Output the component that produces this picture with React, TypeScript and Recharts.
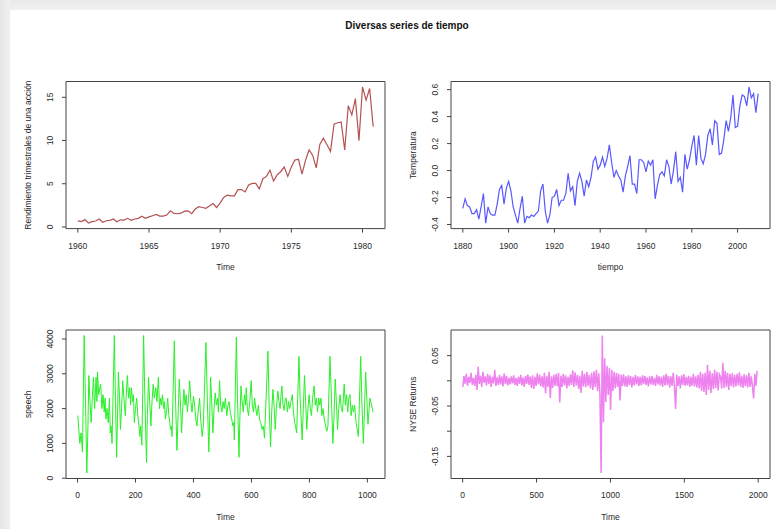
import { LineChart, Line, XAxis, YAxis, ReferenceArea } from 'recharts'

// Johnson & Johnson quarterly earnings, 1960 Q1 .. 1980 Q4
const jjEarnings = [
  0.71, 0.63, 0.85, 0.44, 0.61, 0.69, 0.92, 0.55, 0.72, 0.77, 0.92, 0.6,
  0.83, 0.8, 1.0, 0.77, 0.92, 1.0, 1.24, 1.0, 1.16, 1.3, 1.45, 1.25,
  1.26, 1.38, 1.86, 1.56, 1.53, 1.59, 1.83, 1.86, 1.53, 2.07, 2.34, 2.25,
  2.16, 2.43, 2.7, 2.25, 2.79, 3.42, 3.69, 3.6, 3.6, 4.32, 4.32, 4.05,
  4.86, 5.04, 5.04, 4.41, 5.58, 5.85, 6.57, 5.31, 6.03, 6.39, 6.93, 5.85,
  6.93, 7.74, 7.83, 6.12, 7.74, 8.91, 8.28, 6.84, 9.54, 10.26, 9.54, 8.73,
  11.88, 12.06, 12.15, 8.91, 14.04, 12.96, 14.85, 9.99, 16.2, 14.67, 16.02, 11.61,
]
const jjStart = 1960

// global temperature deviations, 1880 .. 2009
const gtempValues = [
  -0.28, -0.21, -0.26, -0.27, -0.32, -0.32, -0.29, -0.36, -0.27, -0.17,
  -0.39, -0.27, -0.32, -0.33, -0.33, -0.25, -0.14, -0.11, -0.25, -0.13,
  -0.08, -0.15, -0.27, -0.33, -0.39, -0.28, -0.19, -0.39, -0.34, -0.35,
  -0.33, -0.34, -0.32, -0.3, -0.15, -0.1, -0.3, -0.39, -0.33, -0.2,
  -0.19, -0.14, -0.26, -0.22, -0.22, -0.17, -0.02, -0.15, -0.12, -0.26,
  -0.08, -0.02, -0.08, -0.19, -0.07, -0.12, -0.05, 0.07, 0.1, 0.01,
  0.04, 0.1, 0.03, 0.09, 0.19, 0.06, -0.05, 0.0, -0.04, -0.07,
  -0.16, -0.04, 0.03, 0.11, -0.1, -0.1, -0.17, 0.08, 0.08, 0.06,
  -0.01, 0.07, 0.04, 0.08, -0.21, -0.11, -0.03, -0.01, -0.04, 0.08,
  0.03, -0.1, 0.0, 0.14, -0.08, -0.05, -0.16, 0.12, 0.01, 0.08,
  0.18, 0.26, 0.04, 0.26, 0.09, 0.05, 0.12, 0.26, 0.31, 0.19,
  0.37, 0.35, 0.12, 0.13, 0.23, 0.37, 0.29, 0.39, 0.56, 0.32,
  0.33, 0.48, 0.56, 0.55, 0.48, 0.62, 0.54, 0.57, 0.43, 0.57,
]
const gtempStart = 1880

// speech recording as [time, value]
const speechSamples: [number, number][] = [
  [1, 1800], [4, 1450], [8, 1000], [12, 1300], [17, 750], [23, 4100], [28, 2000], [32, 150],
  [36, 1500], [39, 2950], [43, 2200], [47, 1600], [51, 2300], [55, 2900], [59, 2000], [64, 2900],
  [67, 2200], [69, 3050], [73, 2400], [77, 2600], [80, 2700], [84, 2000], [88, 2400], [92, 1900],
  [95, 2300], [98, 1700], [102, 2000], [106, 1600], [110, 2300], [113, 1300], [116, 1500], [119, 1000],
  [127, 4100], [131, 2200], [135, 600], [138, 1800], [141, 3050], [145, 2300], [148, 1400], [152, 2000],
  [156, 2800], [160, 2300], [165, 1800], [168, 2400], [172, 2950], [176, 2300], [180, 2600], [183, 2100],
  [186, 2600], [190, 2200], [193, 2400], [196, 1600], [200, 2000], [204, 2300], [208, 1800], [212, 1500],
  [215, 1200], [218, 1500], [222, 950], [228, 4100], [232, 2400], [238, 450], [241, 1800], [245, 2900],
  [249, 2200], [253, 1500], [257, 2200], [261, 2700], [265, 2300], [270, 2600], [274, 2200], [279, 2900],
  [283, 2000], [287, 2300], [290, 2100], [293, 2400], [297, 2000], [300, 2200], [303, 1700], [307, 1900],
  [311, 2300], [315, 1800], [318, 1600], [321, 1400], [324, 1500], [326, 1200], [334, 3950], [338, 2300],
  [343, 800], [347, 1800], [351, 2850], [355, 2200], [359, 1300], [363, 2000], [367, 2550], [371, 2100],
  [375, 2400], [379, 1900], [383, 2300], [387, 2800], [391, 2200], [395, 1900], [400, 2350], [404, 2100],
  [408, 1700], [412, 1500], [416, 1900], [421, 2300], [425, 1700], [430, 1200], [434, 1500], [443, 3900],
  [448, 2200], [453, 750], [456, 1700], [459, 2900], [463, 2200], [467, 1300], [471, 2000], [475, 2450],
  [479, 2100], [483, 2300], [486, 1900], [490, 2800], [494, 2100], [498, 1900], [502, 2200], [506, 2000],
  [510, 2300], [515, 1800], [519, 2100], [523, 2200], [527, 1900], [532, 1700], [536, 1500], [539, 1600],
  [541, 1100], [548, 4050], [552, 2300], [557, 600], [560, 1700], [564, 2650], [568, 2200], [572, 1900],
  [576, 2400], [580, 2100], [582, 2600], [586, 2000], [590, 1800], [595, 2300], [599, 2800], [603, 2100],
  [607, 1900], [611, 2300], [615, 2000], [619, 1800], [624, 2100], [628, 1700], [632, 1600], [637, 1400],
  [641, 1500], [645, 1150], [657, 3650], [661, 2100], [666, 900], [670, 1900], [674, 2550], [678, 2100],
  [682, 1400], [686, 2000], [691, 2500], [695, 2200], [699, 2000], [702, 2400], [705, 2650], [709, 2100],
  [713, 1950], [717, 2300], [720, 2300], [724, 1900], [728, 2200], [732, 2000], [736, 2200], [741, 2400],
  [745, 1900], [749, 1600], [752, 1500], [756, 1300], [764, 3500], [768, 2300], [775, 1100], [779, 2000],
  [783, 2950], [787, 2200], [791, 1400], [795, 2000], [799, 2400], [803, 2000], [807, 1800], [811, 2300],
  [816, 2650], [820, 2100], [824, 2300], [828, 1900], [832, 2300], [836, 2100], [840, 2300], [843, 1800],
  [847, 2000], [851, 1700], [856, 1500], [860, 1350], [864, 1500], [871, 3500], [876, 2300], [881, 1000],
  [885, 1800], [889, 2850], [893, 2200], [897, 1400], [901, 2000], [906, 2400], [910, 2000], [914, 1900],
  [920, 2700], [924, 2100], [928, 2400], [932, 1900], [936, 2300], [940, 2400], [944, 1800], [948, 2100],
  [952, 1900], [956, 2100], [961, 1600], [965, 1400], [969, 1200], [977, 3500], [981, 2200], [986, 1000],
  [990, 2000], [994, 3050], [998, 2300], [1002, 1550], [1006, 2000], [1009, 2300], [1013, 2150], [1017, 2000],
  [1020, 1900],
]
const speechLength = 1020

// NYSE daily returns, one reading every 8 days
const nyseReturns = [
  -0.012, 0.01, -0.006, 0.014, -0.01, 0.008, -0.004, 0.016, -0.008, 0.006,
  -0.01, 0.012, -0.018, 0.028, -0.006, 0.01, -0.012, 0.018, -0.004, 0.009,
  -0.009, 0.014, -0.006, 0.011, -0.012, 0.008, -0.005, 0.022, -0.01, 0.007,
  -0.008, 0.012, -0.007, 0.009, -0.011, 0.015, -0.006, 0.01, -0.009, 0.006,
  -0.007, 0.009, -0.005, 0.011, -0.008, 0.006, -0.01, 0.008, -0.006, 0.012,
  -0.009, 0.007, -0.012, 0.01, -0.006, 0.013, -0.008, 0.009, -0.014, 0.011,
  -0.016, 0.008, -0.01, 0.015, -0.007, 0.012, -0.011, 0.009, -0.013, 0.016,
  -0.025, 0.01, -0.012, 0.018, -0.034, 0.009, -0.014, 0.012, -0.01, 0.014,
  -0.011, 0.016, -0.043, 0.01, -0.012, 0.014, -0.009, 0.011, -0.015, 0.008,
  -0.01, 0.013, -0.008, 0.021, -0.012, 0.017, -0.009, 0.012, -0.016, 0.01,
  -0.024, 0.02, -0.011, 0.014, -0.013, 0.018, -0.01, 0.012, -0.015, 0.016,
  -0.018, 0.019, -0.012, 0.022, -0.02, 0.015, -0.025, -0.183, 0.09, -0.082,
  0.045, -0.042, 0.03, -0.028, 0.026, -0.058, 0.022, -0.02, 0.018, -0.015,
  0.016, -0.012, 0.014, -0.039, 0.012, -0.01, 0.013, -0.011, 0.009, -0.012,
  0.011, -0.008, 0.01, -0.013, 0.008, -0.009, 0.012, -0.007, 0.009, -0.01,
  0.008, -0.009, 0.011, -0.006, 0.01, -0.008, 0.007, -0.011, 0.009, -0.007,
  0.01, -0.008, 0.006, -0.01, 0.012, -0.007, 0.009, -0.009, 0.008, -0.012,
  0.011, -0.009, 0.014, -0.008, 0.01, -0.013, 0.009, -0.01, 0.016, -0.011,
  -0.056, 0.012, -0.01, 0.009, -0.015, 0.011, -0.008, 0.013, -0.01, 0.008,
  -0.009, 0.01, -0.012, 0.008, -0.01, 0.014, -0.011, 0.009, -0.013, 0.012,
  -0.015, 0.018, -0.02, 0.014, -0.022, 0.016, -0.028, 0.032, -0.018, 0.02,
  -0.024, 0.015, -0.016, 0.022, -0.014, 0.018, -0.019, 0.013, 0.008, -0.015,
  0.036, -0.014, 0.02, -0.012, 0.016, -0.018, 0.014, -0.01, 0.015, -0.013,
  0.012, -0.011, 0.014, -0.009, 0.017, -0.012, 0.01, -0.014, 0.013, -0.01,
  0.011, -0.013, 0.016, -0.012, 0.009, -0.011, -0.035, 0.014, -0.01, 0.02,
]
const nyseStep = 8
const nyseLength = 2000

const jjXTicks = [1960, 1965, 1970, 1975, 1980]
const jjYTicks = [0, 5, 10, 15]
const gtempXTicks = [1880, 1900, 1920, 1940, 1960, 1980, 2000]
const gtempYTicks = [-0.4, -0.2, 0, 0.2, 0.4, 0.6]
const speechXTicks = [0, 200, 400, 600, 800, 1000]
const speechYTicks = [0, 1000, 2000, 3000, 4000]
const nyseXTicks = [0, 500, 1000, 1500, 2000]
const nyseYTicks = [-0.15, -0.1, -0.05, 0, 0.05]
const nyseYLabels = ['-0.15', '', '-0.05', '', '0.05']

const FONT = '"Liberation Sans", Arial, Helvetica, sans-serif'
const INK = '#2a2a2a'

type Pt = { t: number; v: number }
type Box = { left: number; top: number; right: number; bottom: number }
type Frame = { x: number; y: number; w: number; h: number }

// R pads the data range by 4% on each side
function padRange(vals: number[]): [number, number] {
  const lo = Math.min(...vals)
  const hi = Math.max(...vals)
  const d = (hi - lo) * 0.04
  return [lo - d, hi + d]
}

const jjData: Pt[] = jjEarnings.map((v, i) => ({ t: jjStart + i / 4, v }))
const gtempData: Pt[] = gtempValues.map((v, i) => ({ t: gtempStart + i, v }))
const speechData: Pt[] = speechSamples.map(([t, v]) => ({ t, v }))
const nyseData: Pt[] = nyseReturns.map((v, i) => ({ t: 1 + i * nyseStep, v }))

function XTick(props: any) {
  const { x, y, payload } = props
  return (
    <text x={x} y={y} dy="0.35em" textAnchor="middle" fontSize={8.5} fontFamily={FONT} fill={INK}>
      {payload.value}
    </text>
  )
}

function makeYTick(fmt: (v: number, i: number) => string) {
  return function YTick(props: any) {
    const { x, y, payload, index } = props
    const label = fmt(payload.value, index)
    if (!label) return <g />
    return (
      <text
        x={x}
        y={y}
        dy="0.35em"
        textAnchor="middle"
        transform={`rotate(-90 ${x} ${y})`}
        fontSize={8.5}
        fontFamily={FONT}
        fill={INK}
      >
        {label}
      </text>
    )
  }
}

type PanelProps = {
  frame: Frame
  box: Box
  data: Pt[]
  xDomain: [number, number]
  yDomain: [number, number]
  xTicks: number[]
  yTicks: number[]
  yFmt: (v: number, i: number) => string
  color: string
  width?: number
}

function Panel({ frame, box, data, xDomain, yDomain, xTicks, yTicks, yFmt, color, width = 1.2 }: PanelProps) {
  const margin = { top: box.top - frame.y, right: frame.x + frame.w - box.right, left: 0, bottom: 0 }
  return (
    <div style={{ position: 'absolute', left: frame.x, top: frame.y }}>
      <LineChart width={frame.w} height={frame.h} data={data} margin={margin}>
        <XAxis
          dataKey="t"
          type="number"
          domain={xDomain}
          ticks={xTicks}
          height={frame.y + frame.h - box.bottom}
          axisLine={false}
          tickLine={{ stroke: '#444' }}
          tickSize={4}
          tickMargin={13}
          tick={<XTick />}
          interval={0}
        />
        <YAxis
          dataKey="v"
          type="number"
          domain={yDomain}
          ticks={yTicks}
          width={box.left - frame.x}
          axisLine={false}
          tickLine={{ stroke: '#444' }}
          tickSize={4}
          tickMargin={12}
          tick={makeYTick(yFmt)}
          interval={0}
        />
        <ReferenceArea
          x1={xDomain[0]}
          x2={xDomain[1]}
          y1={yDomain[0]}
          y2={yDomain[1]}
          fill="none"
          stroke="#444"
          strokeWidth={1}
          ifOverflow="visible"
        />
        <Line
          type="linear"
          dataKey="v"
          stroke={color}
          strokeWidth={width}
          dot={false}
          isAnimationActive={false}
        />
      </LineChart>
    </div>
  )
}

const boxA: Box = { left: 66, top: 81.5, right: 385, bottom: 228.6 }
const boxB: Box = { left: 451, top: 81.5, right: 770, bottom: 228.6 }
const boxC: Box = { left: 66, top: 330, right: 385, bottom: 478.5 }
const boxD: Box = { left: 451, top: 330, right: 770, bottom: 478.5 }

function Titles() {
  const xt = (b: Box, s: string) => (
    <text x={(b.left + b.right) / 2} y={b.bottom + 38.5} dy="0.35em" textAnchor="middle" fontSize={8.5} fontFamily={FONT} fill={INK}>
      {s}
    </text>
  )
  const yt = (b: Box, s: string) => {
    const x = b.left - 37.5
    const y = (b.top + b.bottom) / 2
    return (
      <text x={x} y={y} dy="0.35em" textAnchor="middle" transform={`rotate(-90 ${x} ${y})`} fontSize={8.5} fontFamily={FONT} fill={INK}>
        {s}
      </text>
    )
  }
  return (
    <svg width={776} height={529} style={{ position: 'absolute', left: 0, top: 0, pointerEvents: 'none' }}>
      <text x={407} y={25} dy="0.35em" textAnchor="middle" fontSize={10} fontWeight="bold" fontFamily={FONT} fill="#111">
        Diversas series de tiempo
      </text>
      {xt(boxA, 'Time')}
      {yt(boxA, 'Rendimiento trimestrales de una acción')}
      {xt(boxB, 'tiempo')}
      {yt(boxB, 'Temperatura')}
      {xt(boxC, 'Time')}
      {yt(boxC, 'speech')}
      {xt(boxD, 'Time')}
      {yt(boxD, 'NYSE Returns')}
    </svg>
  )
}

export default function App() {
  return (
    <div style={{ position: 'relative', width: 776, height: 529, background: '#fff', overflow: 'hidden' }}>
      <style>{'body{margin:0}'}</style>
      <div style={{ position: 'absolute', left: 0, top: 0, width: 776, height: 10, background: 'linear-gradient(#e9e9e9, #f1f1f1)' }} />
      <div style={{ position: 'absolute', left: 0, top: 0, width: 10, height: 529, background: 'linear-gradient(90deg, #e6e6e6, #f0f0f0)' }} />
      <Panel
        frame={{ x: 0, y: 40, w: 395, h: 250 }}
        box={boxA}
        data={jjData}
        xDomain={padRange(jjData.map((d) => d.t))}
        yDomain={padRange(jjEarnings)}
        xTicks={jjXTicks}
        yTicks={jjYTicks}
        yFmt={(v) => String(v)}
        color="#b45252"
      />
      <Panel
        frame={{ x: 395, y: 40, w: 381, h: 250 }}
        box={boxB}
        data={gtempData}
        xDomain={padRange(gtempData.map((d) => d.t))}
        yDomain={padRange(gtempValues)}
        xTicks={gtempXTicks}
        yTicks={gtempYTicks}
        yFmt={(v) => v.toFixed(1)}
        color="#5858ff"
      />
      <Panel
        frame={{ x: 0, y: 300, w: 395, h: 229 }}
        box={boxC}
        data={speechData}
        xDomain={padRange([1, speechLength])}
        yDomain={padRange(speechSamples.map((s) => s[1]))}
        xTicks={speechXTicks}
        yTicks={speechYTicks}
        yFmt={(v) => String(v)}
        color="#28f028"
        width={1}
      />
      <Panel
        frame={{ x: 395, y: 300, w: 381, h: 229 }}
        box={boxD}
        data={nyseData}
        xDomain={padRange([1, nyseLength])}
        yDomain={padRange(nyseReturns)}
        xTicks={nyseXTicks}
        yTicks={nyseYTicks}
        yFmt={(_v, i) => nyseYLabels[i] ?? ''}
        color="#ee82ee"
        width={1.5}
      />
      <Titles />
    </div>
  )
}
